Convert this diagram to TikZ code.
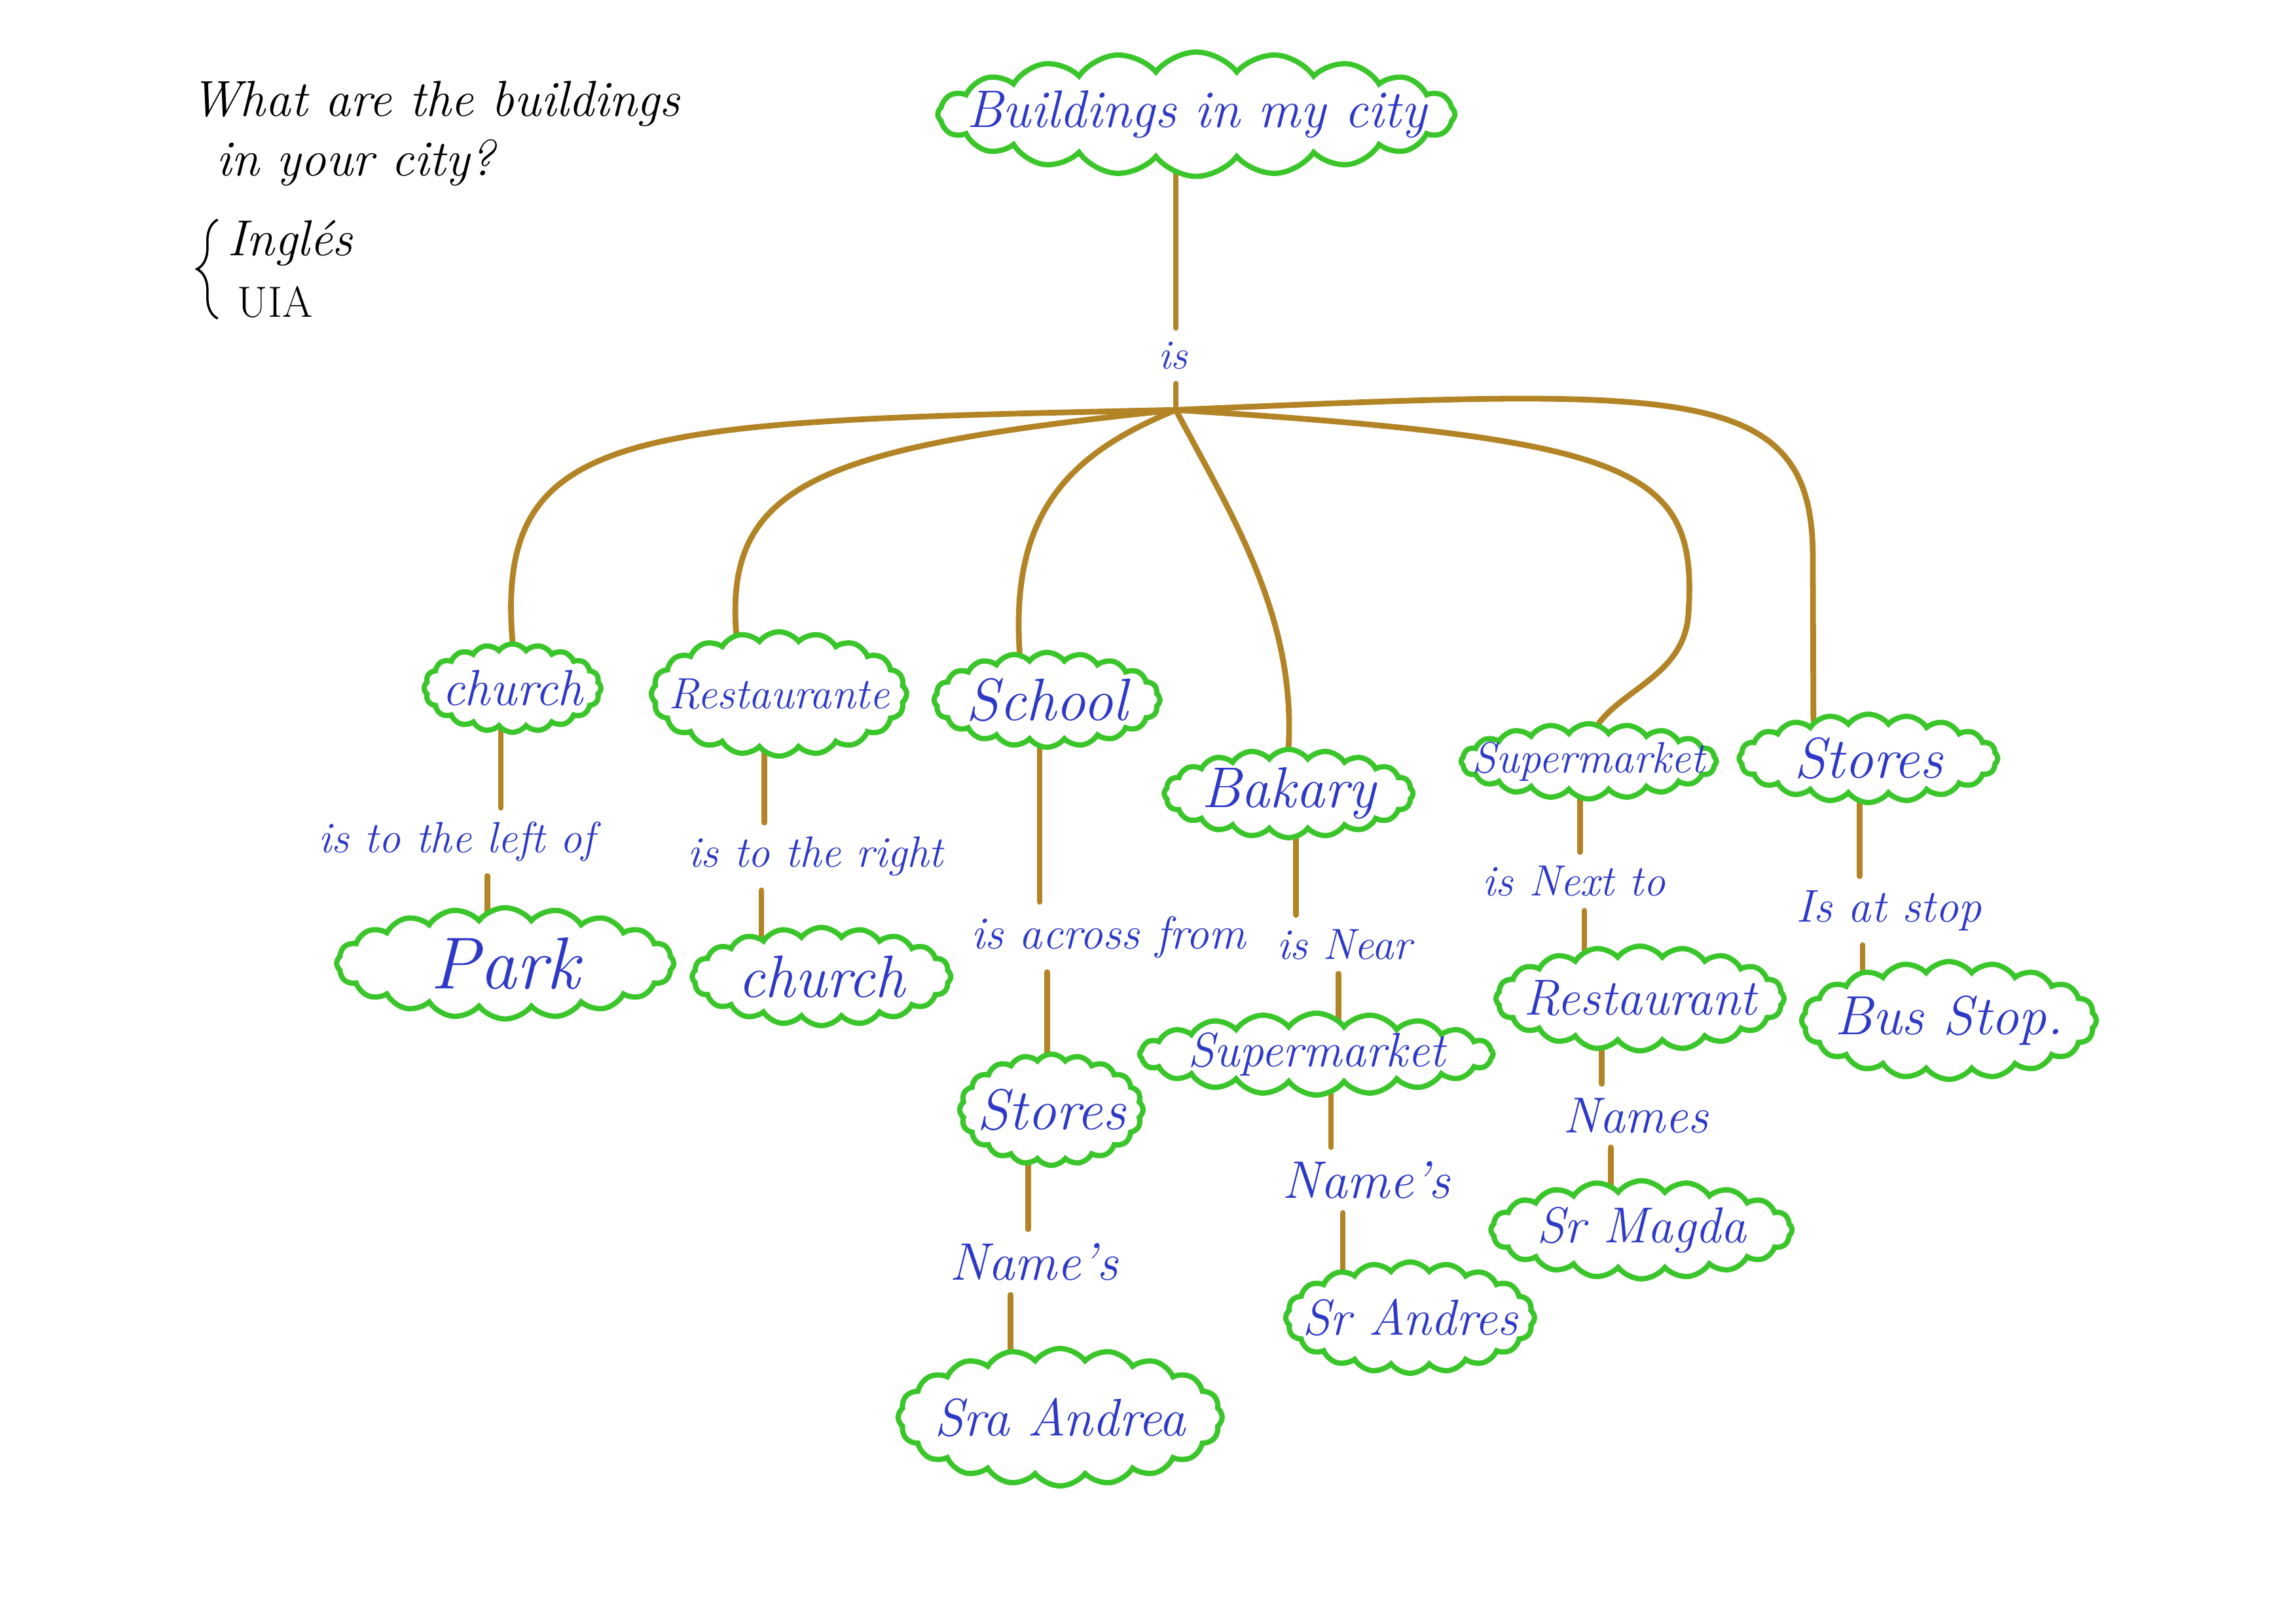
\documentclass[tikz,border=0pt]{standalone}
\usepackage{tikz}
\usetikzlibrary{shapes.symbols,decorations.pathreplacing,backgrounds}

\definecolor{leafgreen}{RGB}{58,198,42}
\definecolor{inkblue}{RGB}{46,58,198}
\definecolor{stick}{RGB}{178,132,38}
\newcommand\inbox[1]{\makebox[0pt]{#1}}

\tikzset{
  hand/.style={font=\fontsize{#1}{#1}\selectfont\itshape},
  hand/.default=19,
  concept/.style 2 args={cloud, cloud puffs=20, cloud puff arc=105, cloud ignores aspect,
    draw=leafgreen, line width=2.3pt, fill=white, text=inkblue, hand, inner sep=0pt,
    minimum width=#1cm, minimum height=#2cm},
  link/.style={text=inkblue, hand, inner sep=6pt},
  stem/.style={draw=stick, line width=2.5pt, line cap=round},
}

\begin{document}
\begin{tikzpicture}[x=0.02237cm, y=-0.02237cm]
  \useasboundingbox (0,0) rectangle (1568,1109);
  % question in the corner
  \node[font=\fontsize{22}{26}\selectfont\itshape, align=left, anchor=north west, inner sep=0pt] (ask) at (130,55)
    {What are the buildings\\\hspace{0.5em}in your city?};
  \node[font=\fontsize{22}{27}\selectfont\itshape, align=left, anchor=north west, inner sep=0pt] (course) at (155,150)
    {Ingl\'es\\\hspace{0.2em}{\upshape\fontsize{19}{19}\selectfont UIA}};
  \draw[line width=1pt, decorate, decoration={brace, amplitude=9pt}]
    ([xshift=-4pt]course.south west) -- ([xshift=-4pt]course.north west);

  % root
  \node[concept={7.9}{1.9}, hand=23] (city) at (817,78) {\inbox{Buildings in my city}};
  \node[link, hand=18] (is) at (801,243) {is};
  \coordinate (hub) at (803,280);

  % first row
  \node[concept={2.7}{1.35}, hand=22] (church) at (350,470) {\inbox{church}};
  \node[concept={3.9}{1.9}, hand=19] (rest) at (532,474) {\inbox{Restaurante}};
  \node[concept={3.45}{1.45}, hand=26] (school) at (715,478) {\inbox{School}};
  \node[concept={3.8}{1.35}, hand=25] (bakary) at (880,542) {\inbox{Bakary}};
  \node[concept={3.9}{1.15}, hand=19] (super) at (1085,520) {\inbox{Supermarket}};
  \node[concept={3.95}{1.35}, hand=25] (stores) at (1276,518) {\inbox{Stores}};

  % linking words and lower concepts
  \node[link] (leftof) at (312,575) {is to the left of};
  \node[concept={5.15}{1.7}, hand=32] (park) at (345,658) {\inbox{Park}};
  \node[link] (rightof) at (557,585) {is to the right};
  \node[concept={3.95}{1.5}, hand=26] (church2) at (561,667) {\inbox{church}};
  \node[link, hand=20] (across) at (757,640) {is across from};
  \node[concept={2.8}{1.7}, hand=25] (stores2) at (718,758) {\inbox{Stores}};
  \node[link, hand=23] (names1) at (706,862) {Name's};
  \node[concept={4.95}{2.1}, hand=23] (andrea) at (724,968) {\inbox{Sra Andrea}};
  \node[link, hand=19] (near) at (918,645) {is Near};
  \node[concept={5.4}{1.25}, hand=21] (super2) at (899,720) {\inbox{Supermarket}};
  \node[link, hand=23] (names2) at (933,806) {Name's};
  \node[concept={3.8}{1.7}, hand=22] (andres) at (963,900) {\inbox{Sr Andres}};
  \node[link, hand=19] (nextto) at (1075,602) {is Next to};
  \node[concept={4.4}{1.6}, hand=22] (rest2) at (1120,682) {\inbox{Restaurant}};
  \node[link, hand=22] (names3) at (1117,762) {Names};
  \node[concept={4.6}{1.5}, hand=22] (magda) at (1121,840) {\inbox{Sr Magda}};
  \node[link, hand=20] (atstop) at (1290,622) {Is at stop};
  \node[concept={4.5}{1.8}, hand=24] (busstop) at (1331,697) {\inbox{Bus Stop.}};

  \begin{scope}[on background layer]
    \draw[stem] (city.center -| hub) -- (is.north -| hub);
    \draw[stem] (is.south -| hub) -- (hub);
    \draw[stem] (hub) .. controls (430,288) and (338,290) .. (church.north);
    \draw[stem] (hub) .. controls (560,305) and (495,330) .. (rest.125);
    \draw[stem] (hub) .. controls (730,310) and (690,350) .. (school.120);
    \draw[stem] (hub) .. controls (840,350) and (885,420) .. (bakary.north);
    \draw[stem] (hub) .. controls (1120,300) and (1160,320) .. (1153,420)
      .. controls (1150,460) and (1110,470) .. (super.75);
    \draw[stem] (hub) .. controls (1150,265) and (1238,260) .. (1238,380) -- (stores.145);
    % vertical stems: concept -> word -> concept
    \foreach \a/\b/\x in {church/leftof/342, rest/rightof/522, school/across/710,
      stores2/names1/702, bakary/near/885, super2/names2/909, super/nextto/1079,
      rest2/names3/1094, stores/atstop/1270}{
      \coordinate (col) at (\x,0);
      \draw[stem] (\a.center -| col) -- (\b.north -| col);
    }
    \foreach \b/\c/\x in {leftof/park/333, rightof/church2/520, across/stores2/715,
      names1/andrea/690, near/super2/914, names2/andres/917, nextto/rest2/1082,
      names3/magda/1100, atstop/busstop/1272}{
      \coordinate (col) at (\x,0);
      \draw[stem] (\b.south -| col) -- (\c.center -| col);
    }
  \end{scope}
\end{tikzpicture}
\end{document}
